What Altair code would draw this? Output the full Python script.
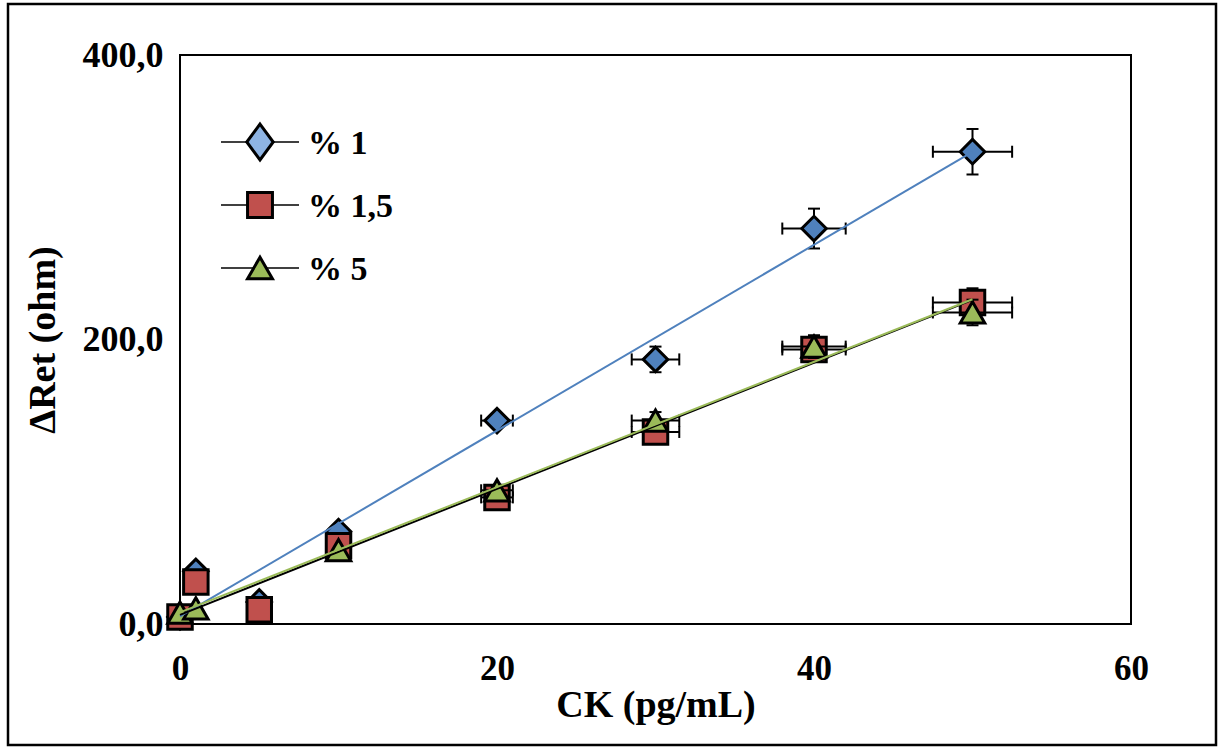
import altair as alt
import pandas as pd

# ---- data ----
x_all = [0, 1, 5, 10, 20, 30, 40, 50]
blue_y = [5, 37, 15.5, 65, 143, 186, 278, 332]
blue_xerr = [0, 0, 0, 0, 1, 1.5, 2, 2.5]
blue_yerr = [0, 0, 0, 0, 3, 9, 14, 16]

red_y = [5, 29.5, 10, 55, 89, 135, 193, 226]
red_xerr = [0, 0, 0, 0, 1, 1.5, 2, 2.5]
red_yerr = [0, 0, 0, 0, 3, 5, 8, 10]

green_x = [0, 1, 10, 20, 30, 40, 50]
green_y = [8, 11, 52, 94, 143, 195, 219]
green_xerr = [0, 0, 0, 1, 1.5, 2, 2.5]
green_yerr = [0, 0, 0, 3, 6, 8, 9]

labels = ["% 1", "% 1,5", "% 5"]
x_ticks = [0, 20, 40, 60]
y_ticks = [0, 200, 400]

FONT = "Liberation Serif"
W, H = 951, 569
PAD_L, PAD_T = 180, 55

xsc = alt.Scale(domain=[0, 60], nice=False, zero=False)
ysc = alt.Scale(domain=[0, 400], nice=False, zero=False)
x_axis = alt.Axis(values=x_ticks, grid=False, ticks=False, domain=False,
                  labelFont=FONT, labelFontWeight="bold", labelFontSize=35,
                  labelColor="black", labelPadding=27, labelFlush=False,
                  title="CK (pg/mL)", titleFont=FONT, titleFontWeight="bold",
                  titleFontSize=38, titleColor="black", titlePadding=0)
y_axis = alt.Axis(values=y_ticks, grid=False, ticks=False, domain=False,
                  labelFont=FONT, labelFontWeight="bold", labelFontSize=36,
                  labelColor="black", labelPadding=17, labelFlush=False,
                  labelExpr="replace(format(datum.value, '.1f'), '.', ',')",
                  title="\u0394Ret (ohm)", titleFont=FONT, titleFontWeight="bold",
                  titleFontSize=38, titleColor="black", titlePadding=20)


def X(f):
    return alt.X(f, type="quantitative", scale=xsc, axis=x_axis, title="CK (pg/mL)")


def Y(f):
    return alt.Y(f, type="quantitative", scale=ysc, axis=y_axis, title="\u0394Ret (ohm)")


def series_layers(xs, ys, xe, ye, shape, fill):
    df = pd.DataFrame({"x": xs, "y": ys, "xerr": xe, "yerr": ye})
    base = alt.Chart(df)
    xerr = base.transform_filter("datum.xerr > 0").transform_calculate(
        xlo="datum.x - datum.xerr", xhi="datum.x + datum.xerr")
    yerr = base.transform_filter("datum.yerr > 0").transform_calculate(
        ylo="datum.y - datum.yerr", yhi="datum.y + datum.yerr")
    layers = [
        xerr.mark_rule(color="black", strokeWidth=2).encode(x=X("xlo"), x2="xhi", y=Y("y")),
        xerr.mark_tick(orient="vertical", size=12, thickness=2, color="black", opacity=1).encode(x=X("xlo"), y=Y("y")),
        xerr.mark_tick(orient="vertical", size=12, thickness=2, color="black", opacity=1).encode(x=X("xhi"), y=Y("y")),
        yerr.mark_rule(color="black", strokeWidth=2).encode(x=X("x"), y=Y("ylo"), y2="yhi"),
        yerr.mark_tick(orient="horizontal", size=12, thickness=2, color="black", opacity=1).encode(x=X("x"), y=Y("ylo")),
        yerr.mark_tick(orient="horizontal", size=12, thickness=2, color="black", opacity=1).encode(x=X("x"), y=Y("yhi")),
        base.mark_point(shape=shape, filled=True, fill=fill, stroke="black",
                        strokeWidth=3, size=600, opacity=1).encode(x=X("x"), y=Y("y")),
    ]
    return df, layers


blue_df, blue_layers = series_layers(x_all, blue_y, blue_xerr, blue_yerr, "diamond", "#4F81BD")
red_df, red_layers = series_layers(x_all, red_y, red_xerr, red_yerr, "square", "#C0504D")
green_df, green_layers = series_layers(green_x, green_y, green_xerr, green_yerr, "triangle-up", "#9BBB59")


def trend(df, color):
    return alt.Chart(df).transform_regression("x", "y").mark_line(
        color=color, strokeWidth=2).encode(x=X("x"), y=Y("y"))


trends = [trend(blue_df, "#4F81BD"), trend(red_df, "black"), trend(green_df, "#9BBB59")]

# outer frame around the whole figure
frame = alt.Chart(pd.DataFrame({"a": [0]})).mark_rect(
    fillOpacity=0, stroke="black", strokeWidth=2.5).encode(
    x=alt.value(8 - PAD_L), x2=alt.value(1216 - PAD_L),
    y=alt.value(4 - PAD_T), y2=alt.value(745 - PAD_T))

# legend
leg_shapes = ["M0,-1.35L1,0L0,1.35L-1,0Z", "square", "triangle-up"]
leg_fills = ["#8EB4E3", "#C0504D", "#9BBB59"]
leg_y = [87, 150, 213]
leg_layers = []
for lab, shp, fl, ly in zip(labels, leg_shapes, leg_fills, leg_y):
    ldf = alt.Chart(pd.DataFrame({"label": [lab]}))
    leg_layers.append(ldf.mark_rule(color="black", strokeWidth=1.5).encode(
        x=alt.value(41), x2=alt.value(119), y=alt.value(ly)))
    leg_layers.append(ldf.mark_point(shape=shp, filled=True, fill=fl, stroke="black",
                                     strokeWidth=3, size=700 if shp.startswith("M") else 620,
                                     opacity=1).encode(x=alt.value(80), y=alt.value(ly)))
    leg_layers.append(ldf.mark_text(align="left", baseline="middle", font=FONT,
                                    fontWeight="bold", fontSize=34, color="black").encode(
        x=alt.value(128), y=alt.value(ly + 2), text="label:N"))

chart = alt.layer(
    frame, *blue_layers, *red_layers, *green_layers, *trends, *leg_layers
).properties(
    width=W, height=H,
    autosize=alt.AutoSizeParams(type="none"),
    padding={"left": PAD_L, "top": PAD_T, "right": 1223 - PAD_L - W, "bottom": 747 - PAD_T - H},
    background="white",
).configure_view(stroke="black", strokeWidth=2)

chart.save("out.html", embed_options={"renderer": "svg", "actions": False})
